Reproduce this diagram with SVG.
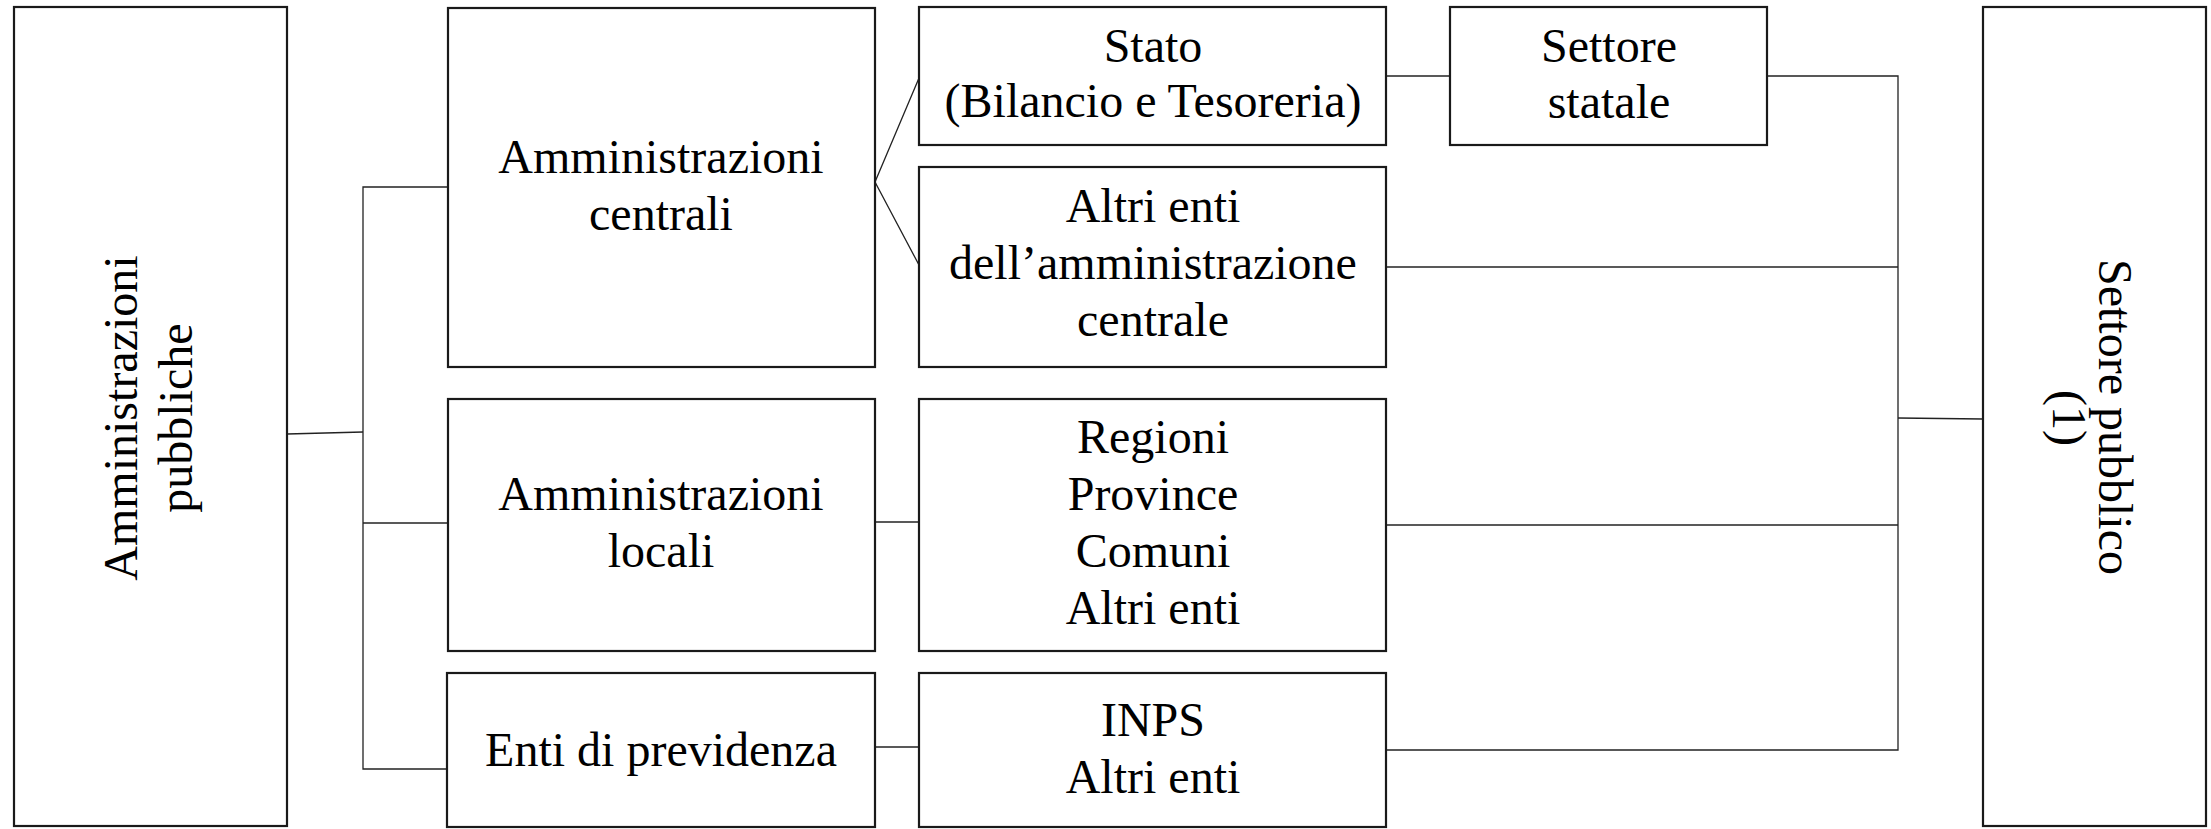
<svg xmlns="http://www.w3.org/2000/svg" width="2211" height="829" viewBox="0 0 2211 829">
<style>
.box{fill:#fff;stroke:#1a1a1a;stroke-width:2.2}
.t{font-family:"Liberation Serif","Times New Roman",serif;font-size:48px;fill:#000;text-anchor:middle}
.c{fill:none;stroke:#222;stroke-width:1.3}
</style>
<rect width="2211" height="829" fill="#fff"/>
<g id="connectors">
<polyline class="c" points="287,434 363,432"/>
<polyline class="c" points="448,187 363,187 363,769 447,769"/>
<line class="c" x1="363" y1="523" x2="448" y2="523"/>
<polyline class="c" points="919,78 875,182 919,265"/>
<line class="c" x1="875" y1="522" x2="919" y2="522"/>
<line class="c" x1="875" y1="747" x2="919" y2="747"/>
<line class="c" x1="1386" y1="76" x2="1450" y2="76"/>
<polyline class="c" points="1767,76 1898,76 1898,750 1386,750"/>
<line class="c" x1="1386" y1="267" x2="1898" y2="267"/>
<line class="c" x1="1386" y1="525" x2="1898" y2="525"/>
<line class="c" x1="1898" y1="418" x2="1983" y2="419"/>
</g>
<g id="amministrazioni-pubbliche">
<rect class="box" x="14" y="7" width="273" height="819"/>
<text class="t" transform="translate(137,418) rotate(-90)">Amministrazioni</text>
<text class="t" transform="translate(192,418) rotate(-90)">pubbliche</text>
</g>
<g id="amministrazioni-centrali">
<rect class="box" x="448" y="8" width="427" height="359"/>
<text class="t" x="661" y="173">Amministrazioni</text>
<text class="t" x="661" y="230">centrali</text>
</g>
<g id="amministrazioni-locali">
<rect class="box" x="448" y="399" width="427" height="252"/>
<text class="t" x="661" y="510">Amministrazioni</text>
<text class="t" x="661" y="567">locali</text>
</g>
<g id="enti-previdenza">
<rect class="box" x="447" y="673" width="428" height="154"/>
<text class="t" x="661" y="766">Enti di previdenza</text>
</g>
<g id="stato">
<rect class="box" x="919" y="7" width="467" height="138"/>
<text class="t" x="1153" y="62">Stato</text>
<text class="t" x="1153" y="117">(Bilancio e Tesoreria)</text>
</g>
<g id="altri-enti-centrali">
<rect class="box" x="919" y="167" width="467" height="200"/>
<text class="t" x="1153" y="222">Altri enti</text>
<text class="t" x="1153" y="279">dell’amministrazione</text>
<text class="t" x="1153" y="336">centrale</text>
</g>
<g id="regioni-province">
<rect class="box" x="919" y="399" width="467" height="252"/>
<text class="t" x="1153" y="453">Regioni</text>
<text class="t" x="1153" y="510">Province</text>
<text class="t" x="1153" y="567">Comuni</text>
<text class="t" x="1153" y="624">Altri enti</text>
</g>
<g id="inps">
<rect class="box" x="919" y="673" width="467" height="154"/>
<text class="t" x="1153" y="736">INPS</text>
<text class="t" x="1153" y="793">Altri enti</text>
</g>
<g id="settore-statale">
<rect class="box" x="1450" y="7" width="317" height="138"/>
<text class="t" x="1609" y="62">Settore</text>
<text class="t" x="1609" y="118">statale</text>
</g>
<g id="settore-pubblico">
<rect class="box" x="1983" y="7" width="223" height="819"/>
<text class="t" transform="translate(2099,417) rotate(90)">Settore pubblico</text>
<text class="t" transform="translate(2053,418) rotate(90)">(1)</text>
</g>
</svg>
